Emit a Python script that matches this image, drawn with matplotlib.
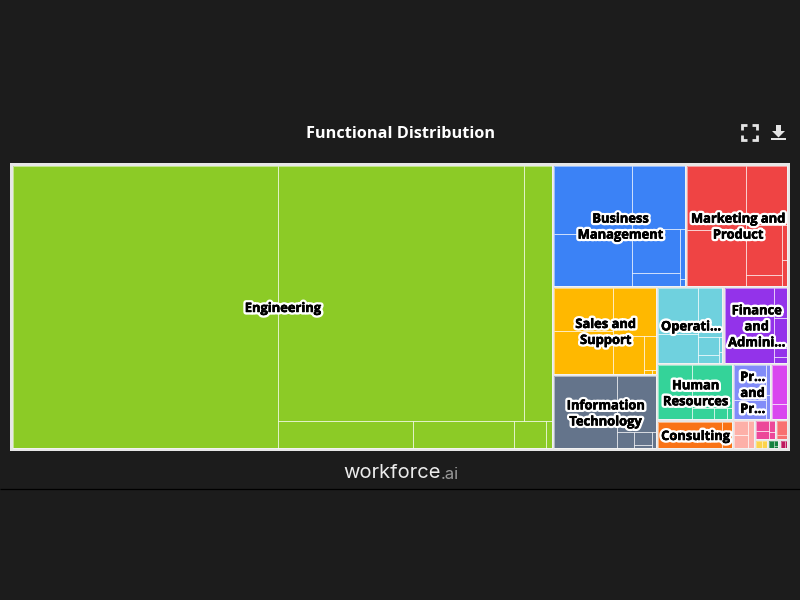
import matplotlib
matplotlib.use("Agg")
import matplotlib.pyplot as plt
from matplotlib.patches import Rectangle, Polygon
import matplotlib.patheffects as pe

# ---- data: estimated function sizes and their sub-functions ----
categories = ["Engineering", "Business\nManagement", "Marketing and\nProduct", "Sales and\nSupport",
              "Information\nTechnology", "Operati…", "Finance\nand\nAdmini…", "Human\nResources",
              "Consulting", "Pr…\nand\nPr…", "", "", "", "", "", "", ""]
totals = [154470, 16292, 12495, 9211, 7710, 5154, 5037, 4294, 2204, 2128, 980, 664, 420, 240, 130, 110, 90]
engineering = [75544, 63232, 7168, 3808, 2828, 896, 168]
business = [5382, 4056, 3339, 2112, 624, 250, 35]
marketing = [3835, 3304, 2460, 1800, 396, 175, 125]
sales = [2552, 2494, 2107, 1178, 408, 32, 16]
it = [4464, 2145, 289, 238, 54, 68]
operations = [1840, 1170, 1160, 378, 168, 45, 33]
finance = [3675, 420, 420, 120, 80]
hr = [1815, 1720, 242, 143, 55]
consulting = [1638, 260]
program = [1085, 589, 120, 96]
magenta = [585, 225]
blush = [196, 182, 162]
hotpink = [140, 112, 80, 46]
rose = [140, 40]
amber = [48, 48]
forest = [40, 20, 12]
maroon = [35, 21]
series = [engineering, business, marketing, sales, it, operations, finance, hr, consulting,
          program, magenta, blush, hotpink, rose, amber, forest, maroon]

colors = ["#8ccb26", "#3b82f6", "#ef4444", "#ffb800", "#64748b", "#6fd1de", "#9333ea", "#34d399",
          "#f97316", "#818cf8", "#d946ef", "#fdb0a8", "#ec4899", "#f87171", "#fcd34d", "#15803d", "#be185d"]

# strips of the treemap: direction (v = column on the left, h = row on top) and item count
top_strips = "v1 h2 v2 h2 v2 h2 v1 h2 h3"
strips = ["v1 h2 v1 v1 v1 v1", "v2 h1 v2 v2", "v2 h1 v2 v2", "v2 h1 v1 h1 h2", "v1 h1 v1 v2 v1",
          "v2 h1 v2 v2", "v1 h1 h1 h1 h1", "v1 h1 v1 v1 v1", "v1 v1", "v2 v2", "h1 h1",
          "v2 v1", "v2 v2", "h1 h1", "v1 v1", "v1 h1 h1", "v1 v1"]


def layout(values, spec, x, y, w, h):
    """Place values in the rectangle strip by strip, area proportional to value."""
    out, i, left = [], 0, float(sum(values))
    for token in spec.split():
        n = int(token[1:])
        part = values[i:i + n]
        s = float(sum(part))
        if token[0] == "v":
            sw = w * s / left
            yy = y
            for v in part:
                out.append((x, yy, sw, h * v / s))
                yy += h * v / s
            x += sw
            w -= sw
        else:
            sh = h * s / left
            xx = x
            for v in part:
                out.append((xx, y, w * v / s, sh))
                xx += w * v / s
            y += sh
            h -= sh
        left -= s
        i += n
    return out


BG = "#1c1c1c"
EDGE = "#e6e6e6"
fig = plt.figure(figsize=(8, 6), dpi=100, facecolor=BG)

# full-figure overlay in pixels, for chrome
over = fig.add_axes([0, 0, 1, 1], zorder=3)
over.set_xlim(0, 800)
over.set_ylim(600, 0)
over.axis("off")
over.patch.set_alpha(0)

# treemap axes
ax = fig.add_axes([10 / 800, 1 - 451 / 600, 780 / 800, 288 / 600], zorder=1)
ax.set_xlim(0, 780)
ax.set_ylim(288, 0)
ax.axis("off")
ax.add_patch(Rectangle((0, 0), 780, 288, facecolor=EDGE, edgecolor="none"))

groups = layout(totals, top_strips, 1.5, 1.5, 777, 285)
for (gx, gy, gw, gh), vals, spec, col, name in zip(groups, series, strips, colors, categories):
    pad = 1.1
    ix, iy, iw, ih = gx + pad, gy + pad, gw - 2 * pad, gh - 2 * pad
    ax.add_patch(Rectangle((ix, iy), iw, ih, facecolor=col, edgecolor="none"))
    lw = 0.7 if iw * ih > 300 else 0.45
    for (cx, cy, cw, ch) in layout(vals, spec, ix, iy, iw, ih):
        ax.add_patch(Rectangle((cx, cy), cw, ch, facecolor="none",
                               edgecolor=(1, 1, 1, 0.5), linewidth=lw, clip_on=True))
    if name:
        ax.text(gx + gw / 2 + 0.7, gy + gh / 2 + 1.5, name, ha="center", va="center", color="black",
                fontsize=9.3, fontweight="bold", family="Open Sans", linespacing=1.3, zorder=5,
                path_effects=[pe.withStroke(linewidth=3.8, foreground="white"),
                              pe.withStroke(linewidth=0.35, foreground="black")])

# title and footer
over.text(400.5, 134, "Functional Distribution", ha="center", va="center", color="white",
          fontsize=11.7, fontweight="bold", family="Open Sans")
over.text(441, 473.5, "workforce", ha="right", va="center", color="#ececec", fontsize=14.5,
          family="Inter", fontweight="normal")
over.text(441, 474.5, ".ai", ha="left", va="center", color="#9a9a9a", fontsize=12,
          family="Inter", fontweight="normal")
over.plot([0, 800], [489, 489], color="#000000", lw=0.9, solid_capstyle="butt")

# toolbar icons
ICON = "#e4e4e4"
for (a, b, sx, sy) in [(742, 125, 1, 1), (757, 125, -1, 1), (742, 140, 1, -1), (757, 140, -1, -1)]:
    over.plot([a, a, a + 5 * sx], [b + 5 * sy, b, b], color=ICON, lw=2.0, solid_joinstyle="miter",
              solid_capstyle="butt")
over.add_patch(Polygon([(776, 125), (781, 125), (781, 131), (785, 131), (778.5, 137.5), (772, 131), (776, 131)],
                       closed=True, facecolor=ICON, edgecolor="none"))
over.add_patch(Rectangle((771, 138), 15, 2.4, facecolor=ICON, edgecolor="none"))

fig.savefig("out.png", dpi=100, facecolor=BG)
